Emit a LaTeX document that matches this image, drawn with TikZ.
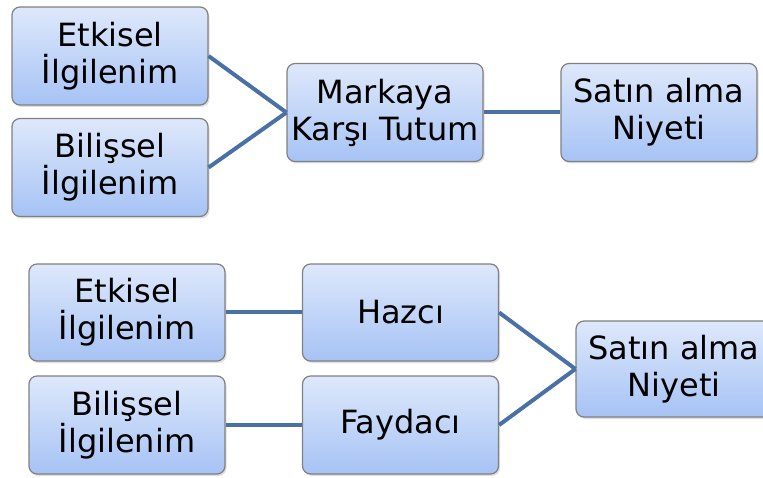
\documentclass[tikz,border=0pt]{standalone}
\usepackage{fontspec}
\setmainfont{DejaVu Sans}
\usetikzlibrary{shadows}
\definecolor{boxtop}{RGB}{222,232,251}
\definecolor{boxbot}{RGB}{166,195,245}
\definecolor{boxedge}{RGB}{128,128,128}
\definecolor{linkblue}{RGB}{74,113,166}
\tikzset{
  conceptbox/.style={
    rectangle, rounded corners=8pt, draw=boxedge, line width=1.2pt,
    top color=boxtop, bottom color=boxbot,
    minimum width=196pt, minimum height=98pt, inner sep=0pt,
    align=center, font=\fontsize{32}{37}\selectfont,
    drop shadow={opacity=0.25, shadow xshift=1.5pt, shadow yshift=-2pt}
  },
  link/.style={draw=linkblue, line width=4pt}
}
\begin{document}
\begin{tikzpicture}[x=1pt,y=-1pt]
\useasboundingbox (0,0) rectangle (763,478);
% upper model
\node[conceptbox] (e1) at (110,56)    {Etkisel\\İlgilenim};
\node[conceptbox] (b1) at (110,167.5) {Bilişsel\\İlgilenim};
\node[conceptbox] (m)  at (385,112.5) {Markaya\\Karşı Tutum};
\node[conceptbox] (s1) at (659,112.5) {Satın alma\\Niyeti};
\draw[link] (e1.east) -- (m.west);
\draw[link] (b1.east) -- (m.west);
\draw[link] (m.east) -- (s1.west);
% lower model
\node[conceptbox, minimum height=97pt] (e2) at (127,312.5) {Etkisel\\İlgilenim};
\node[conceptbox] (b2) at (127,425) {Bilişsel\\İlgilenim};
\node[conceptbox, minimum height=97pt] (h)  at (400.5,312.5) {Hazcı};
\node[conceptbox] (f)  at (400.5,425) {Faydacı};
\node[conceptbox, minimum height=96pt] (s2) at (674,369) {Satın alma\\Niyeti};
\draw[link] (e2.east) -- (h.west);
\draw[link] (b2.east) -- (f.west);
\draw[link] (h.east) -- (s2.west);
\draw[link] (f.east) -- (s2.west);
\end{tikzpicture}
\end{document}
